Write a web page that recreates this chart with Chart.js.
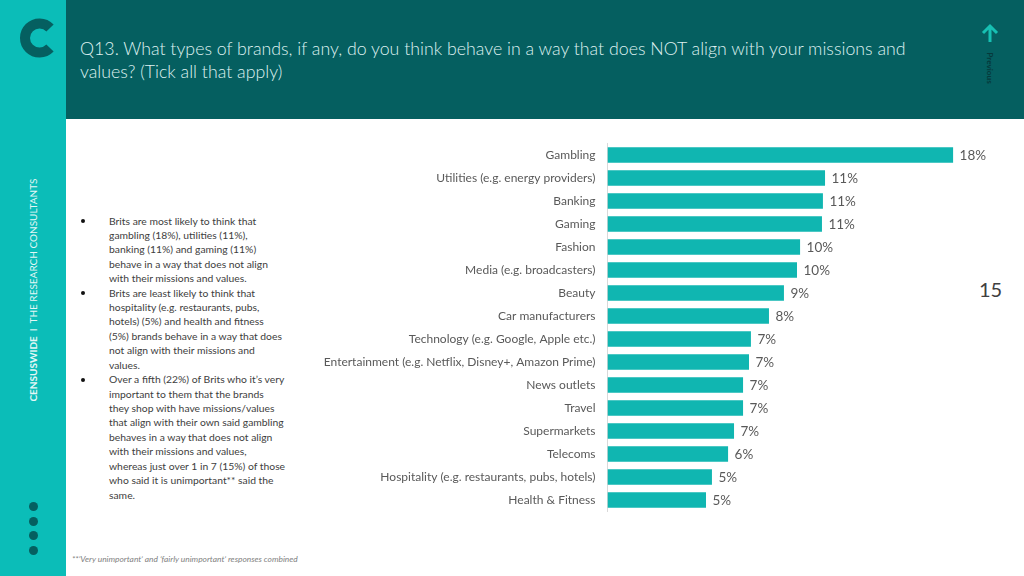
<!DOCTYPE html>
<html>
<head>
<meta charset="utf-8">
<script src="https://cdn.jsdelivr.net/npm/chart.js@4"></script>
<style>
  html, body { margin: 0; padding: 0; background: #fff; }
  body { width: 1024px; height: 576px; position: relative; overflow: hidden; font-family: Lato, sans-serif; }
  .abs { position: absolute; white-space: nowrap; }
  #side { left: 0; top: 0; width: 66px; height: 576px; background: #0bbdb8; }
  #head { left: 66px; top: 0; width: 958px; height: 119px; background: #055f60; }
  #title { left: 80px; top: 37px; font-size: 17.75px; line-height: 23px; font-weight: 300; color: #dff1f0; }
  #prev { left: 990px; top: 67.5px; transform: translate(-50%, -50%) rotate(90deg); font-size: 8.2px; font-weight: 700; color: #06393b; }
  #page { left: 979px; top: 277px; font-size: 20px; line-height: 24px; color: #404040; }
  #brand { left: 33px; top: 289.5px; transform: translate(-50%, -50%) rotate(-90deg); font-size: 10px; color: #e4f7f6; }
  #notes { left: 109px; top: 213.5px; font-size: 10.35px; line-height: 14.42px; color: #404040; }
  .bullet { position: absolute; left: 81px; width: 4px; height: 4px; border-radius: 50%; background: #111; }
  .dot { position: absolute; left: 28.5px; width: 9px; height: 9px; border-radius: 50%; background: #055f60; }
  #foot { left: 72px; top: 554px; font-size: 8.4px; line-height: 11px; font-style: italic; color: #7f7f7f; }
  #chartBox { position: absolute; left: 300px; top: 140px; width: 724px; height: 376px; }
</style>
</head>
<body>
<div class="abs" id="side"></div>
<div class="abs" id="head"></div>
<svg class="abs" style="left:0;top:0" width="66" height="70">
  <path d="M50 28 A 14.5 14.5 0 1 0 50 48" fill="none" stroke="#055f60" stroke-width="10"/>
</svg>
<svg class="abs" style="left:975px;top:20px" width="30" height="26">
  <path d="M15 22 V7 M8 13 L15 6 L22 13" fill="none" stroke="#17c0b3" stroke-width="3"/>
</svg>
<div class="abs" id="title">Q13. What types of brands, if any, do you think behave in a way that does NOT align with your missions and<br>values? (Tick all that apply)</div>
<div class="abs" id="prev">Previous</div>
<div class="abs" id="page">15</div>
<div class="abs" id="brand"><b>CENSUSWIDE</b>&nbsp; I &nbsp;THE RESEARCH CONSULTANTS</div>
<div class="bullet" style="top:219px"></div>
<div class="bullet" style="top:291px"></div>
<div class="bullet" style="top:378px"></div>
<div class="abs" id="notes">Brits are most likely to think that<br>gambling (18%), utilities (11%),<br>banking (11%) and gaming (11%)<br>behave in a way that does not align<br>with their missions and values.<br>Brits are least likely to think that<br>hospitality (e.g. restaurants, pubs,<br>hotels) (5%) and health and fitness<br>(5%) brands behave in a way that does<br>not align with their missions and<br>values.<br>Over a fifth (22%) of Brits who it’s very<br>important to them that the brands<br>they shop with have missions/values<br>that align with their own said gambling<br>behaves in a way that does not align<br>with their missions and values,<br>whereas just over 1 in 7 (15%) of those<br>who said it is unimportant** said the<br>same.</div>
<div class="dot" style="top:502px"></div>
<div class="dot" style="top:516.5px"></div>
<div class="dot" style="top:531px"></div>
<div class="dot" style="top:545.5px"></div>
<div class="abs" id="foot">**’Very unimportant’ and ‘fairly unimportant’ responses combined</div>
<div id="chartBox"><canvas id="brandsChart" width="724" height="376"></canvas></div>

<script>
// Q13 brands not aligned with missions and values - horizontal bars
const categories = [
  'Gambling', 'Utilities (e.g. energy providers)', 'Banking', 'Gaming', 'Fashion',
  'Media (e.g. broadcasters)', 'Beauty', 'Car manufacturers', 'Technology (e.g. Google, Apple etc.)',
  'Entertainment (e.g. Netflix, Disney+, Amazon Prime)', 'News outlets', 'Travel', 'Supermarkets',
  'Telecoms', 'Hospitality (e.g. restaurants, pubs, hotels)', 'Health & Fitness'
];
// read off the bar lengths, so not the rounded labels
const barValues = [18.0, 11.33, 11.22, 11.17, 10.03, 9.87, 9.19, 8.41, 7.47, 7.37, 7.06, 7.06, 6.59, 6.28, 5.44, 5.13];
const valueLabels = ['18%', '11%', '11%', '11%', '10%', '10%', '9%', '8%', '7%', '7%', '7%', '7%', '7%', '6%', '5%', '5%'];

const textColor = '#595959';

// labels at the bar ends
const endLabels = {
  id: 'endLabels',
  afterDatasetsDraw(chart) {
    const ctx = chart.ctx;
    const bars = chart.getDatasetMeta(0).data;
    ctx.save();
    ctx.font = '13.5px Lato';
    ctx.fillStyle = textColor;
    ctx.textAlign = 'left';
    ctx.textBaseline = 'middle';
    bars.forEach((bar, i) => {
      ctx.fillText(valueLabels[i], bar.x + 6.5, bar.y + 0.5);
    });
    ctx.restore();
  }
};

new Chart(document.getElementById('brandsChart'), {
  type: 'bar',
  data: {
    labels: categories,
    datasets: [{
      data: barValues,
      backgroundColor: '#10b6b1',
      barPercentage: 0.68,
      categoryPercentage: 1
    }]
  },
  plugins: [endLabels],
  options: {
    indexAxis: 'y',
    responsive: false,
    animation: false,
    layout: { padding: { top: 3.5, bottom: 4.5, left: 0, right: 32.5 } },
    plugins: { legend: { display: false }, tooltip: { enabled: false } },
    scales: {
      x: { min: 0, max: 20, display: false, grid: { display: false } },
      y: {
        afterFit(scale) { scale.width = 307.5; scale.paddingTop = 0; scale.paddingBottom = 0; },
        grid: { display: false, drawTicks: false },
        border: { display: true, color: '#d9d9d9', width: 1 },
        ticks: {
          color: textColor,
          padding: 12,
          autoSkip: false,
          minRotation: 0,
          maxRotation: 0,
          font: { family: 'Lato', size: 12 }
        }
      }
    }
  }
});
</script>
</body>
</html>
